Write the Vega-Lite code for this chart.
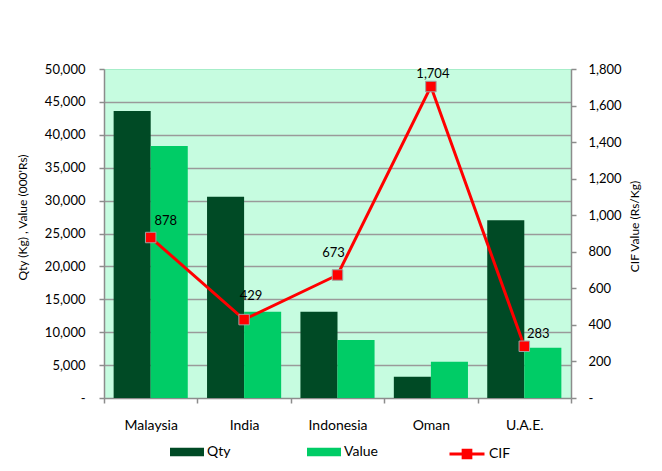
{
  "$schema": "https://vega.github.io/schema/vega-lite/v6.json",
  "width": 467,
  "height": 329,
  "autosize": {"type": "none"},
  "padding": {"left": 104, "top": 69, "right": 91, "bottom": 73},
  "background": "white",
  "config": {
    "font": "Lato",
    "view": {"fill": "#C6FCE0", "stroke": "#A6EEC9", "strokeWidth": 1},
    "axis": {
      "labelFont": "Lato", "titleFont": "Lato",
      "labelFontSize": 13, "titleFontSize": 12,
      "labelColor": "#000000", "titleColor": "#000000",
      "titleFontWeight": "normal",
      "domainColor": "#8C8C8C", "tickColor": "#8C8C8C",
      "domainWidth": 1.5, "tickWidth": 1.5, "tickSize": 5
    },
    "legend": {"labelFont": "Lato", "labelFontSize": 14, "labelColor": "#000000"}
  },
  "data": {
    "values": [
      {"Country": "Malaysia", "Qty": 43600, "Value": 38300, "CIF": 878},
      {"Country": "India", "Qty": 30600, "Value": 13100, "CIF": 429},
      {"Country": "Indonesia", "Qty": 13100, "Value": 8820, "CIF": 673},
      {"Country": "Oman", "Qty": 3230, "Value": 5500, "CIF": 1704},
      {"Country": "U.A.E.", "Qty": 27000, "Value": 7650, "CIF": 283}
    ]
  },
  "layer": [
    {
      "transform": [{"fold": ["Qty", "Value"], "as": ["Series", "Amount"]}],
      "mark": {"type": "bar"},
      "encoding": {
        "x": {
          "field": "Country", "type": "nominal", "sort": null,
          "scale": {"paddingInner": 0, "paddingOuter": 0},
          "axis": {"title": null, "labelAngle": 0, "tickBand": "extent", "labelPadding": 15, "labelFontSize": 14, "grid": false}
        },
        "xOffset": {
          "field": "Series", "type": "nominal", "sort": ["Qty", "Value"],
          "scale": {"paddingInner": 0, "paddingOuter": 0.26}
        },
        "y": {
          "field": "Amount", "type": "quantitative",
          "scale": {"domain": [0, 50000], "nice": false},
          "axis": {
            "orient": "left",
            "values": [0, 5000, 10000, 15000, 20000, 25000, 30000, 35000, 40000, 45000, 50000],
            "labelExpr": "datum.value == 0 ? '-' : format(datum.value, ',')",
            "title": "Qty  (Kg) , Value (000'Rs)",
            "titlePadding": 15,
            "titleY": 148,
            "labelPadding": 14,
            "grid": true,
            "gridWidth": 1.5,
            "gridColor": {"condition": {"test": "datum.value == 50000 || datum.value == 0", "value": "transparent"}, "value": "#9A9A9A"}
          }
        },
        "fill": {
          "field": "Series", "type": "nominal",
          "scale": {"domain": ["Qty", "Value"], "range": ["#004A25", "#00CC66"]},
          "legend": {
            "orient": "none", "legendX": 66, "legendY": 366,
            "direction": "horizontal", "title": null,
            "symbolType": "M-1,-0.25H1V0.25H-1Z", "symbolSize": 1156,
            "symbolStrokeWidth": 0, "labelOffset": 3, "columnPadding": 76
          }
        }
      }
    },
    {
      "encoding": {
        "x": {"field": "Country", "type": "nominal", "sort": null},
        "y": {
          "field": "CIF", "type": "quantitative",
          "scale": {"domain": [0, 1800], "nice": false},
          "axis": {
            "orient": "right",
            "values": [0, 200, 400, 600, 800, 1000, 1200, 1400, 1600, 1800],
            "labelExpr": "datum.value == 0 ? '-' : format(datum.value, ',')",
            "title": "CIF Value (Rs/Kg)",
            "titleAngle": 270,
            "titleBaseline": "top",
            "titlePadding": 8,
            "titleY": 157,
            "labelPadding": 12,
            "grid": false
          }
        }
      },
      "layer": [
        {
          "mark": {"type": "line", "strokeWidth": 3},
          "encoding": {
            "stroke": {
              "datum": "CIF", "type": "nominal",
              "scale": {"domain": ["CIF"], "range": ["#FF0000"]},
              "legend": {
                "orient": "none", "legendX": 344, "legendY": 366, "title": null,
                "symbolType": "M-1,0H1M-0.22,-0.22H0.22V0.22H-0.22Z", "symbolSize": 1225,
                "symbolFillColor": "#FF0000", "symbolStrokeWidth": 3, "labelOffset": 3
              }
            }
          }
        },
        {
          "mark": {"type": "point", "shape": "square", "filled": true, "fill": "#FF0000", "stroke": "#A0A0A0", "strokeWidth": 1, "size": 110, "opacity": 1}
        },
        {
          "transform": [{"filter": "datum.Country == 'Malaysia'"}],
          "mark": {"type": "text", "fontSize": 13, "dx": 15, "dy": -17, "color": "#000000"},
          "encoding": {"text": {"field": "CIF", "type": "quantitative", "format": ","}}
        },
        {
          "transform": [{"filter": "datum.Country == 'India'"}],
          "mark": {"type": "text", "fontSize": 13, "dx": 7, "dy": -24, "color": "#000000"},
          "encoding": {"text": {"field": "CIF", "type": "quantitative", "format": ","}}
        },
        {
          "transform": [{"filter": "datum.Country == 'Indonesia'"}],
          "mark": {"type": "text", "fontSize": 13, "dx": -4, "dy": -22, "color": "#000000"},
          "encoding": {"text": {"field": "CIF", "type": "quantitative", "format": ","}}
        },
        {
          "transform": [{"filter": "datum.Country == 'Oman'"}],
          "mark": {"type": "text", "fontSize": 13, "dx": 2, "dy": -13, "color": "#000000"},
          "encoding": {"text": {"field": "CIF", "type": "quantitative", "format": ","}}
        },
        {
          "transform": [{"filter": "datum.Country == 'U.A.E.'"}],
          "mark": {"type": "text", "fontSize": 13, "dx": 14, "dy": -12, "color": "#000000"},
          "encoding": {"text": {"field": "CIF", "type": "quantitative", "format": ","}}
        }
      ]
    }
  ],
  "resolve": {"scale": {"y": "independent"}}
}
